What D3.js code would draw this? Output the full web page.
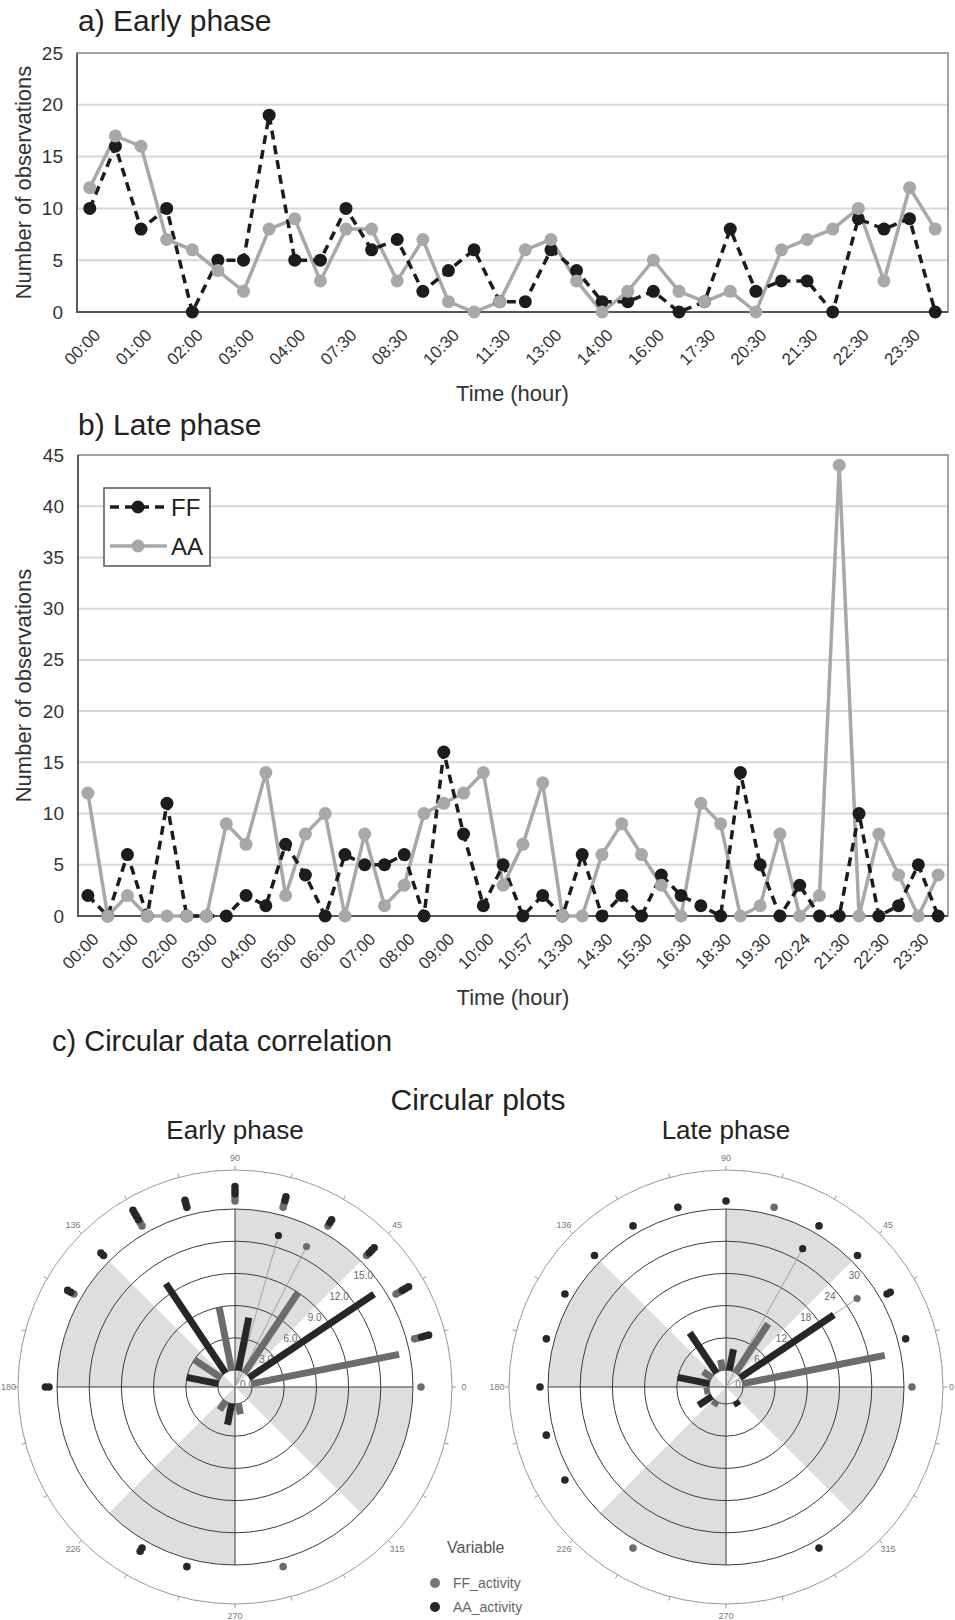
<!DOCTYPE html>
<html>
<head>
<meta charset="utf-8">
<script src="https://cdn.jsdelivr.net/npm/d3@7"></script>
<style>
  body { margin: 0; background: #fff; }
  svg { display: block; font-family: "Liberation Sans", Arial, sans-serif; }
</style>
</head>
<body>
<svg id="chart" width="955" height="1620"></svg>
<script>
// ---- line charts: hourly observations ----
const earlyLabels = ['00:00', '01:00', '02:00', '03:00', '04:00', '07:30', '08:30', '10:30', '11:30',
    '13:00', '14:00', '16:00', '17:30', '20:30', '21:30', '22:30', '23:30'];
const earlyFF = [10, 16, 8, 10, 0, 5, 5, 19, 5, 5, 10, 6, 7, 2, 4, 6, 1, 1, 6, 4,
    1, 1, 2, 0, 1, 8, 2, 3, 3, 0, 9, 8, 9, 0];
const earlyAA = [12, 17, 16, 7, 6, 4, 2, 8, 9, 3, 8, 8, 3, 7, 1, 0, 1, 6, 7, 3,
    0, 2, 5, 2, 1, 2, 0, 6, 7, 8, 10, 3, 12, 8];

const lateLabels = ['00:00', '01:00', '02:00', '03:00', '04:00', '05:00', '06:00', '07:00', '08:00',
    '09:00', '10:00', '10:57', '13:30', '14:30', '15:30', '16:30', '18:30', '19:30', '20:24',
    '21:30', '22:30', '23:30'];
const lateFF = [2, 0, 6, 0, 11, 0, 0, 0, 2, 1, 7, 4, 0, 6, 5, 5, 6, 0, 16, 8,
    1, 5, 0, 2, 0, 6, 0, 2, 0, 4, 2, 1, 0, 14, 5, 0, 3, 0, 0, 10, 0, 1, 5, 0];
const lateAA = [12, 0, 2, 0, 0, 0, 0, 9, 7, 14, 2, 8, 10, 0, 8, 1, 3, 10, 11, 12,
    14, 3, 7, 13, 0, 0, 6, 9, 6, 3, 0, 11, 9, 0, 1, 8, 0, 2, 44, 0, 8, 4, 0, 4];

// ---- circular plots ----
// rose bars: FF at 11.25 + 45k degrees, AA at 33.75 + 45k degrees
const earlyRoseFF = [14, 9, 6, 3, 0, 1, 1, 0];
const earlyRoseAA = [14, 5, 10, 3, 0, 2, 0, 0];
const lateRoseFF = [27, 11, 2, 2, 1, 1, 0, 0];
const lateRoseAA = [21, 4, 9, 6, 3, 0, 1, 0];
const earlyRadialTicks = [0, 3, 6, 9, 12, 15];
const lateRadialTicks = [0, 6, 12, 18, 24, 30];
// mean direction (degrees) and plotted length (radial units)
const earlyMean = { FF: 63, AA: 74, len: 13.1 };
const lateMean = { FF: 34, AA: 61, len: 26.3 };
// stacked raw points on the outer ring
const earlyDotAngles = [0, 15, 30, 45, 60, 75, 90, 105, 120, 135, 150, 180, 240, 255, 285];
const earlyDotFF = [1, 2, 2, 1, 1, 2, 2, 0, 2, 0, 1, 0, 0, 0, 1];
const earlyDotAA = [0, 3, 3, 3, 2, 2, 3, 3, 4, 2, 2, 2, 2, 1, 0];
const lateDotAngles = [0, 15, 30, 45, 60, 75, 90, 105, 120, 135, 150, 165, 180, 195, 210, 240, 300];
const lateDotFF = [1, 0, 0, 0, 0, 1, 0, 0, 0, 0, 0, 0, 0, 0, 0, 1, 0];
const lateDotAA = [0, 1, 2, 1, 1, 0, 1, 1, 1, 1, 1, 1, 1, 1, 1, 0, 1];
const angleLabels = [[0, '0'], [45, '45'], [90, '90'], [135, '136'], [180, '180'], [225, '226'], [270, '270'], [315, '315']];

const W = 955;
const svg = d3.select('#chart');
const TXT = '#333';
const FF_LINE = '#1c1c1c', AA_LINE = '#a8a8a8';
const FF_POLAR = '#6c6c6c', AA_POLAR = '#272727';

function lineChart(cfg) {
    const { left, right, top, bottom, yMax, ff, aa, labels } = cfg;
    const n = ff.length;
    const x = d3.scalePoint().domain(d3.range(n)).range([left, right]).padding(0.5);
    const y = d3.scaleLinear().domain([0, yMax]).range([bottom, top]);
    const ticks = d3.range(0, yMax + 1, 5);
    const g = svg.append('g');

    g.append('text')
        .attr('x', cfg.titleX).attr('y', cfg.titleY)
        .attr('font-size', 30).attr('fill', '#222')
        .text(cfg.title);

    // grid
    g.append('g').selectAll('line')
        .data(ticks.slice(1, -1))
        .join('line')
        .attr('x1', left).attr('x2', right)
        .attr('y1', d => y(d)).attr('y2', d => y(d))
        .attr('stroke', '#d8d8d8').attr('stroke-width', 2);

    // frame
    g.append('rect')
        .attr('x', left).attr('y', top)
        .attr('width', right - left).attr('height', bottom - top)
        .attr('fill', 'none').attr('stroke', '#8a8a8a').attr('stroke-width', 1.6);
    g.append('path')
        .attr('d', `M${left},${top}V${bottom}H${right}`)
        .attr('fill', 'none').attr('stroke', '#555').attr('stroke-width', 1.8);

    const yAxis = g.append('g')
        .attr('transform', `translate(${left},0)`)
        .call(d3.axisLeft(y).tickValues(ticks).tickSize(0).tickPadding(14));
    yAxis.attr('font-family', null).attr('font-size', 19);
    yAxis.select('.domain').remove();
    yAxis.selectAll('text').attr('fill', TXT);

    const xAxis = g.append('g')
        .attr('transform', `translate(0,${bottom})`)
        .call(d3.axisBottom(x)
            .tickValues(d3.range(0, n, 2))
            .tickFormat(i => labels[i / 2])
            .tickSize(0));
    xAxis.attr('font-family', null).attr('font-size', 17);
    xAxis.select('.domain').remove();
    xAxis.selectAll('text')
        .attr('y', 0).attr('dy', '0.35em')
        .attr('text-anchor', 'end')
        .attr('fill', TXT)
        .attr('transform', 'translate(7,20) rotate(-45)');

    g.append('text')
        .attr('x', (left + right) / 2).attr('y', cfg.xTitleY)
        .attr('text-anchor', 'middle').attr('font-size', 22).attr('fill', TXT)
        .text('Time (hour)');
    g.append('text')
        .attr('transform', `translate(23,${(top + bottom) / 2}) rotate(-90)`)
        .attr('text-anchor', 'middle').attr('dy', '0.35em')
        .attr('font-size', 22).attr('fill', TXT)
        .text('Number of observations');

    const line = d3.line().x((d, i) => x(i)).y(d => y(d));
    g.append('path').datum(aa)
        .attr('d', line).attr('fill', 'none')
        .attr('stroke', AA_LINE).attr('stroke-width', 3.5);
    g.append('path').datum(ff)
        .attr('d', line).attr('fill', 'none')
        .attr('stroke', FF_LINE).attr('stroke-width', 3.5)
        .attr('stroke-dasharray', '9,6');
    g.append('g').selectAll('circle')
        .data(ff).join('circle')
        .attr('cx', (d, i) => x(i)).attr('cy', d => y(d))
        .attr('r', 6.5).attr('fill', FF_LINE);
    g.append('g').selectAll('circle')
        .data(aa).join('circle')
        .attr('cx', (d, i) => x(i)).attr('cy', d => y(d))
        .attr('r', 6.5).attr('fill', AA_LINE);

    if (cfg.legend) {
        const lg = g.append('g').attr('transform', `translate(${cfg.legend[0]},${cfg.legend[1]})`);
        lg.append('rect')
            .attr('width', 106).attr('height', 78)
            .attr('fill', '#fff').attr('stroke', '#555').attr('stroke-width', 1.5);
        const items = [['FF', FF_LINE, '9,6', 19], ['AA', AA_LINE, null, 58]];
        items.forEach(([name, col, dash, yy]) => {
            lg.append('line')
                .attr('x1', 6).attr('x2', 63).attr('y1', yy).attr('y2', yy)
                .attr('stroke', col).attr('stroke-width', 3.5)
                .attr('stroke-dasharray', dash);
            lg.append('circle').attr('cx', 34).attr('cy', yy).attr('r', 6.5).attr('fill', col);
            lg.append('text')
                .attr('x', 67).attr('y', yy).attr('dy', '0.36em')
                .attr('font-size', 24).attr('fill', '#222')
                .text(name);
        });
    }
}

function circularPlot(cfg) {
    const { cx, cy, max, ticks, fmt, roseFF, roseAA, mean, dotAngles, dotFF, dotAA } = cfg;
    const R = 178, r0 = 17, Rout = 217, dotR0 = 186, dotStep = 3.6;
    const r = d3.scaleLinear().domain([0, max]).range([r0, R]);
    const rad = a => a * Math.PI / 180;
    const pt = (a, rr) => [rr * Math.cos(rad(a)), -rr * Math.sin(rad(a))];
    const g = svg.append('g').attr('transform', `translate(${cx},${cy})`);

    svg.append('text')
        .attr('x', cx).attr('y', 1139)
        .attr('text-anchor', 'middle').attr('font-size', 26).attr('fill', '#222')
        .text(cfg.title);

    // shaded sectors (math angles, counter-clockwise from east)
    const arc = d3.arc().innerRadius(0).outerRadius(R);
    [[45, 90], [135, 180], [225, 270], [315, 360]].forEach(([a0, a1]) => {
        g.append('path')
            .attr('d', arc({ startAngle: rad(90 - a1), endAngle: rad(90 - a0) }))
            .attr('fill', '#dedede');
    });

    g.append('g').selectAll('circle')
        .data(ticks).join('circle')
        .attr('r', d => r(d))
        .attr('fill', 'none').attr('stroke', '#3c3c3c').attr('stroke-width', 1);
    g.append('path')
        .attr('d', `M${-R},0H${R}M0,${-R}V${R}`)
        .attr('stroke', '#3c3c3c').attr('stroke-width', 1);

    // outer axis circle with hour ticks
    g.append('circle').attr('r', Rout)
        .attr('fill', 'none').attr('stroke', '#8c8c8c').attr('stroke-width', 0.9);
    g.append('g').selectAll('line')
        .data(d3.range(0, 360, 15)).join('line')
        .attr('x1', d => pt(d, Rout)[0]).attr('y1', d => pt(d, Rout)[1])
        .attr('x2', d => pt(d, Rout + 4)[0]).attr('y2', d => pt(d, Rout + 4)[1])
        .attr('stroke', '#8c8c8c').attr('stroke-width', 0.9);
    g.append('g').selectAll('text')
        .data(angleLabels).join('text')
        .attr('x', d => pt(d[0], Rout + 12)[0])
        .attr('y', d => pt(d[0], Rout + 12)[1])
        .attr('text-anchor', 'middle').attr('dy', '0.35em')
        .attr('font-size', 9).attr('fill', '#7a7a7a')
        .text(d => d[1])
        .each(function () {
            // keep labels inside the page
            const w = this.getComputedTextLength();
            const ax = cx + (+this.getAttribute('x'));
            if (ax - w / 2 < 1) this.setAttribute('x', 1 - cx + w / 2);
            if (ax + w / 2 > W - 1) this.setAttribute('x', W - 1 - cx - w / 2);
        });

    // radial scale labels
    g.append('g').selectAll('text')
        .data(ticks).join('text')
        .attr('x', d => d === 0 ? 12 : pt(41, r(d) - 8)[0])
        .attr('y', d => d === 0 ? -3 : pt(41, r(d) - 8)[1])
        .attr('text-anchor', 'middle').attr('dy', '0.35em')
        .attr('font-size', 10).attr('fill', '#6a6a6a')
        .text(fmt);

    // mean direction vectors
    [['FF', FF_POLAR], ['AA', AA_POLAR]].forEach(([k, col]) => {
        const p = pt(mean[k], r(mean.len));
        g.append('line').attr('x1', 0).attr('y1', 0).attr('x2', p[0]).attr('y2', p[1])
            .attr('stroke', '#9a9a9a').attr('stroke-width', 0.9);
        g.append('circle').attr('cx', p[0]).attr('cy', p[1]).attr('r', 3.6).attr('fill', col);
    });

    // rose bars
    const bars = [];
    roseFF.forEach((v, i) => bars.push({ a: 11.25 + 45 * i, v, col: FF_POLAR }));
    roseAA.forEach((v, i) => bars.push({ a: 33.75 + 45 * i, v, col: AA_POLAR }));
    g.append('g').selectAll('line')
        .data(bars.filter(d => d.v > 0)).join('line')
        .attr('x1', d => pt(d.a, r0)[0]).attr('y1', d => pt(d.a, r0)[1])
        .attr('x2', d => pt(d.a, r(d.v))[0]).attr('y2', d => pt(d.a, r(d.v))[1])
        .attr('stroke', d => d.col).attr('stroke-width', 7);

    // stacked points
    const dots = [];
    dotAngles.forEach((a, i) => {
        let k = 0;
        for (let j = 0; j < dotFF[i]; j++) dots.push({ a, rr: dotR0 + dotStep * k++, col: FF_POLAR });
        for (let j = 0; j < dotAA[i]; j++) dots.push({ a, rr: dotR0 + dotStep * k++, col: AA_POLAR });
    });
    g.append('g').selectAll('circle')
        .data(dots).join('circle')
        .attr('cx', d => pt(d.a, d.rr)[0]).attr('cy', d => pt(d.a, d.rr)[1])
        .attr('r', 3.8).attr('fill', d => d.col);
}

lineChart({
    left: 77, right: 948, top: 53, bottom: 312, yMax: 25,
    ff: earlyFF, aa: earlyAA, labels: earlyLabels,
    title: 'a) Early phase', titleX: 78, titleY: 31, xTitleY: 401,
});
lineChart({
    left: 78, right: 948, top: 455, bottom: 916, yMax: 45,
    ff: lateFF, aa: lateAA, labels: lateLabels,
    title: 'b) Late phase', titleX: 78, titleY: 435, xTitleY: 1005,
    legend: [104, 488],
});

svg.append('text')
    .attr('x', 52).attr('y', 1051)
    .attr('font-size', 29).attr('fill', '#222')
    .text('c) Circular data correlation');
svg.append('text')
    .attr('x', 478).attr('y', 1110)
    .attr('text-anchor', 'middle').attr('font-size', 30).attr('fill', '#222')
    .text('Circular plots');

circularPlot({
    cx: 235, cy: 1387, max: 15, ticks: earlyRadialTicks, fmt: d3.format('.1f'),
    roseFF: earlyRoseFF, roseAA: earlyRoseAA, mean: earlyMean,
    dotAngles: earlyDotAngles, dotFF: earlyDotFF, dotAA: earlyDotAA,
    title: 'Early phase',
});
circularPlot({
    cx: 726, cy: 1387, max: 30, ticks: lateRadialTicks, fmt: d3.format('d'),
    roseFF: lateRoseFF, roseAA: lateRoseAA, mean: lateMean,
    dotAngles: lateDotAngles, dotFF: lateDotFF, dotAA: lateDotAA,
    title: 'Late phase',
});

// legend for circular plots
const vl = svg.append('g');
vl.append('text').attr('x', 447).attr('y', 1553)
    .attr('font-size', 16).attr('fill', '#555').text('Variable');
[['FF_activity', '#777', 1583], ['AA_activity', '#242424', 1607]].forEach(([name, col, yy]) => {
    vl.append('circle').attr('cx', 435).attr('cy', yy).attr('r', 5).attr('fill', col);
    vl.append('text').attr('x', 453).attr('y', yy).attr('dy', '0.36em')
        .attr('font-size', 14).attr('fill', '#666').text(name);
});
</script>
</body>
</html>
